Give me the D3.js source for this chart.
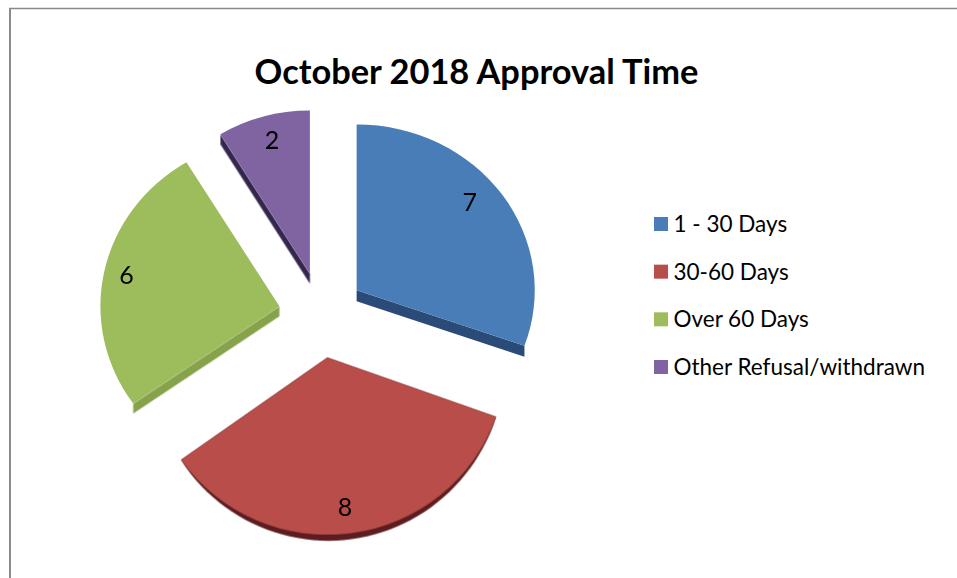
<!DOCTYPE html>
<html><head><meta charset="utf-8">
<script src="https://cdn.jsdelivr.net/npm/d3@7/dist/d3.min.js"></script>
<style>html,body{margin:0;padding:0;background:#fff}svg{display:block}text{font-family:Lato,"Open Sans",sans-serif;fill:#000}</style>
</head><body><svg id="c" width="957" height="578"></svg>
<script>
const titleText = "October 2018 Approval Time";
const categories = ["1 - 30 Days","30-60 Days","Over 60 Days","Other Refusal/withdrawn"];
const values = [7,8,6,2];
const topColors = ["#4a7db8","#b84e49","#9dbc5c","#8063a1"];
const sideColors = ["#2a4c78","#5c1f20","#86a34c","#35264f"];
const sideKinds = ["endEdge","arc","startEdge","startEdge"];
const sideDepths = [11,6,10,10];
const labelAngleFrac = [0.456,0.509,0.506,0.52];
const labelRadiusFrac = [0.83,0.85,0.874,0.848];

const svg = d3.select("#c");
const cx=321.5, cy=315, R=100, explode=43;
const ryOf = m => 170-7.3*Math.cos(m);
const rxOf = m => 179-8*Math.pow(Math.max(0,Math.cos(m)),4);

const defs = svg.append("defs");
defs.append("filter").attr("id","soft").append("feGaussianBlur").attr("stdDeviation",0.5);

svg.append("line").attr("x1",10).attr("x2",10).attr("y1",8).attr("y2",578).attr("stroke","#8a8a8a").attr("stroke-width",2);
svg.append("line").attr("x1",9).attr("x2",957).attr("y1",8.5).attr("y2",8.5).attr("stroke","#8a8a8a").attr("stroke-width",1.5);

svg.append("text").attr("x",476.5).attr("y",84).attr("text-anchor","middle")
  .attr("font-size",34.4).attr("font-weight",700).text(titleText);

const pie = d3.pie().sort(null)(values);
const arc = d3.arc().innerRadius(0).outerRadius(R);
const slices = pie.map((d,i)=>{
  const m=(d.startAngle+d.endAngle)/2;
  return {d,i,m,ry:ryOf(m),rx:rxOf(m),ax:cx+explode*Math.sin(m),ay:cy-explode*Math.cos(m)};
});
const g = svg.append("g").attr("filter","url(#soft)");
const place = s=>`translate(${s.ax},${s.ay}) scale(${s.rx/R},${s.ry/R})`;
const line = d3.line();
function sidePath(s){
  const kind = sideKinds[s.i];
  const dy = sideDepths[s.i]*R/s.ry;
  if(kind==="arc"){
    // crescent under the outer rim, tapering to nothing at both corners
    const a0=s.d.startAngle, a1=s.d.endAngle;
    const ts=d3.range(0,1.0001,0.02);
    const pts=ts.map(t=>{const a=a0+(a1-a0)*t;
      return [R*Math.sin(a),-R*Math.cos(a)+dy*Math.pow(Math.sin(Math.PI*t),0.6)];});
    return line([[0,0],...pts])+"Z";
  }
  const a = kind==="endEdge"?s.d.endAngle:s.d.startAngle;
  const ex=R*Math.sin(a), ey=-R*Math.cos(a);
  return line([[0,0],[ex,ey],[ex,ey+dy],[0,dy]])+"Z";
}
g.selectAll("path.side").data(slices).join("path").attr("class","side")
  .attr("d",sidePath).attr("fill",s=>sideColors[s.i])
  .attr("transform",place);
g.selectAll("path.top").data(slices).join("path").attr("class","top")
  .attr("d",s=>arc(s.d)).attr("fill",s=>topColors[s.i])
  .attr("transform",place);

// labels
const angleOf = s => s.d.startAngle+(s.d.endAngle-s.d.startAngle)*labelAngleFrac[s.i];
svg.append("g").selectAll("text").data(slices).join("text")
  .attr("text-anchor","middle").attr("font-size",25)
  .attr("x",s=>s.ax+s.rx*labelRadiusFrac[s.i]*Math.sin(angleOf(s)))
  .attr("y",s=>s.ay-s.ry*labelRadiusFrac[s.i]*Math.cos(angleOf(s))+9)
  .text(s=>s.d.value);

// legend
const ly = d3.scalePoint().domain(categories).range([224,367]);
const leg = svg.append("g").selectAll("g").data(categories).join("g")
  .attr("transform",d=>`translate(654,${ly(d)})`);
leg.append("rect").attr("x",0).attr("y",-7).attr("width",14).attr("height",14).attr("fill",(d,i)=>topColors[i]);
leg.append("text").attr("x",19.5).attr("y",8).attr("font-size",22.5).text(d=>d);
</script></body></html>
